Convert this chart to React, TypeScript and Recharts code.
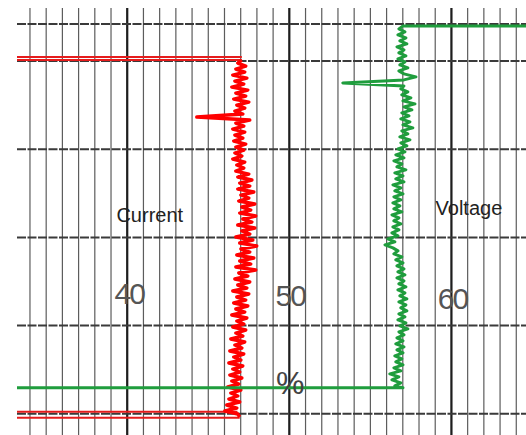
import React from 'react';
import { ComposedChart, XAxis, YAxis, Scatter, ReferenceLine, ReferenceDot } from 'recharts';

// recorder paper: percent across, minutes down
const PCT_DOMAIN = [33.2, 64.6];
const TIME_DOMAIN = [-6.0, 42.4];
const minorPct = [34, 35, 36, 37, 38, 39, 40, 41, 42, 43, 44, 45, 46, 47, 48, 49, 50, 51, 52, 53, 54, 55, 56, 57, 58, 59, 60, 61, 62, 63, 64];
const majorPct = [40, 50, 60];
const timeLines = [-4.2, 0, 10, 20, 30, 40];

const SAMPLE_MIN = 0.34;

const CURRENT_START = -0.1;
const currentPct = [
    47.07, 46.82, 47.31, 46.70, 47.25, 46.51, 47.38, 46.64, 47.19, 46.45,
    47.44, 46.70, 47.31, 46.57, 47.50, 46.76, 47.25, 46.64, 47.13, 44.29,
    47.56, 46.70, 47.19, 46.51, 47.25, 46.64, 47.13, 46.57, 47.31, 46.70,
    47.19, 46.64, 47.07, 46.51, 47.25, 46.76, 47.19, 46.70, 47.50, 46.82,
    47.69, 46.94, 47.56, 46.82, 47.81, 47.01, 47.50, 46.88, 47.87, 47.07,
    47.62, 46.94, 47.93, 47.13, 47.69, 46.82, 47.87, 47.07, 47.56, 46.70,
    47.75, 46.94, 47.99, 47.01, 47.56, 46.76, 47.81, 46.94, 47.62, 46.70,
    47.93, 46.88, 47.44, 46.64, 47.56, 46.82, 47.38, 46.51, 47.50, 46.76,
    47.31, 46.57, 47.44, 46.70, 47.25, 46.45, 47.38, 46.76, 47.19, 46.51,
    47.31, 46.70, 47.13, 46.39, 47.25, 46.64, 47.07, 46.33, 47.19, 46.57,
    47.01, 46.27, 47.13, 46.51, 46.94, 46.33, 47.07, 46.45, 46.88, 46.20,
    47.01, 46.39, 46.82, 46.27, 46.94, 46.14, 46.76, 46.02, 46.82, 46.94,
];
const currentPenLines = [
    [{ pct: 33.2, t: -0.45 }, { pct: 47.07, t: -0.45 }],
    [{ pct: 33.2, t: -0.1 }, { pct: 47.07, t: -0.1 }],
    [{ pct: 33.2, t: 39.77 }, { pct: 46.8, t: 39.77 }],
    [{ pct: 46.94, t: 40.45 }, { pct: 33.2, t: 40.45 }],
];

// voltage pen
const VOLTAGE_START = -3.97;
const voltagePct = [
    57.01, 56.76, 57.13, 56.70, 57.19, 56.82, 57.25, 56.64, 57.07, 56.76,
    57.19, 56.70, 57.13, 56.82, 57.31, 56.76, 57.07, 57.81, 57.07, 53.30,
    57.07, 56.88, 57.31, 56.94, 57.50, 57.01, 57.75, 57.07, 57.56, 56.94,
    57.38, 56.88, 57.44, 57.01, 57.62, 56.94, 57.31, 56.82, 57.44, 56.88,
    57.25, 56.70, 57.13, 56.57, 57.07, 56.45, 56.94, 56.64, 57.19, 56.51,
    57.01, 56.57, 57.07, 56.39, 56.88, 56.51, 57.01, 56.45, 56.88, 56.39,
    56.82, 56.45, 56.94, 56.33, 56.76, 56.45, 56.88, 56.39, 56.76, 56.33,
    56.70, 56.08, 56.51, 55.90, 56.39, 56.70, 56.45, 56.94, 56.57, 57.01,
    56.64, 57.07, 56.70, 57.13, 56.64, 57.07, 56.76, 57.19, 56.70, 57.13,
    56.82, 57.25, 56.76, 57.19, 56.88, 57.25, 56.76, 57.13, 56.70, 57.19,
    56.82, 57.31, 56.76, 57.07, 56.64, 57.01, 56.57, 57.07, 56.64, 57.01,
    56.51, 56.94, 56.57, 57.01, 56.45, 56.88, 56.20, 56.76, 56.33, 56.88,
    56.51,
];
const voltageLeadIn = [{ pct: 64.6, t: -3.97 }, { pct: 57.01, t: -3.97 }];
const voltageLeadOut = [{ pct: 57.01, t: 37.05 }, { pct: 33.2, t: 37.05 }];

const paperLabels = [
    { text: 'Current', pct: 41.39, t: 17.45, kind: 'name' },
    { text: 'Voltage', pct: 61.08, t: 16.66, kind: 'name' },
    { text: '40', pct: 40.12, t: 26.4, kind: 'scale' },
    { text: '50', pct: 50.06, t: 26.63, kind: 'scale' },
    { text: '60', pct: 60.06, t: 26.97, kind: 'scale' },
    { text: '%', pct: 50.06, t: 36.49, kind: 'unit' },
];

const toPoints = (values: number[], start: number) =>
    values.map((pct, i) => ({ pct, t: start + i * SAMPLE_MIN }));

const currentData = toPoints(currentPct, CURRENT_START);
const voltageData = [...voltageLeadIn, ...toPoints(voltagePct, VOLTAGE_START), ...voltageLeadOut];

const labelStyle: Record<string, any> = {
    name: { fontSize: 20, fill: '#222', letterSpacing: 0 },
    scale: { fontSize: 30, fill: '#555', letterSpacing: -2 },
    unit: { fontSize: 32, fill: '#444', letterSpacing: 0 },
};

const NoDot = () => <g />;

const PaperText = ({ viewBox, text, kind }: any) => {
    const s = labelStyle[kind];
    return (
        <text
            x={viewBox.x + viewBox.width / 2}
            y={viewBox.y + viewBox.height / 2}
            textAnchor="middle"
            dominantBaseline="central"
            fontFamily="'Liberation Sans', Arial, sans-serif"
            fontSize={s.fontSize}
            fill={s.fill}
            letterSpacing={s.letterSpacing}
        >
            {text}
        </text>
    );
};

export default function App() {
    return (
        <div style={{ position: 'fixed', left: 0, top: 0, width: 526, height: 435, background: '#fff' }}>
            <ComposedChart width={526} height={435} margin={{ top: 8, right: 0, left: 17, bottom: 0 }}>
                <XAxis type="number" dataKey="pct" domain={PCT_DOMAIN} hide allowDataOverflow />
                <YAxis type="number" dataKey="t" domain={TIME_DOMAIN} reversed hide allowDataOverflow />

                {minorPct.map((v) => (
                    <ReferenceLine key={`m${v}`} x={v} stroke="#5c5c5c" strokeWidth={1.2} />
                ))}
                {majorPct.map((v) => (
                    <ReferenceLine key={`M${v}`} x={v} stroke="#1e1e1e" strokeWidth={2.2} />
                ))}
                {timeLines.map((v) => (
                    <ReferenceLine key={`t${v}`} y={v} stroke="#3a3a3a" strokeWidth={2} strokeDasharray="9 1.5" />
                ))}

                {currentPenLines.map((seg, i) => (
                    <Scatter
                        key={`c${i}`}
                        data={seg}
                        line={{ stroke: '#e51c1c', strokeWidth: 2 }}
                        shape={NoDot}
                        isAnimationActive={false}
                    />
                ))}
                <Scatter
                    data={currentData}
                    line={{ stroke: '#ff0000', strokeWidth: 3.4, strokeLinejoin: 'round' }}
                    shape={NoDot}
                    isAnimationActive={false}
                />
                <Scatter
                    data={voltageData}
                    line={{ stroke: '#1f9d3d', strokeWidth: 3, strokeLinejoin: 'round' }}
                    shape={NoDot}
                    isAnimationActive={false}
                />

                {paperLabels.map((l) => (
                    <ReferenceDot
                        key={l.text}
                        x={l.pct}
                        y={l.t}
                        r={1}
                        fill="none"
                        stroke="none"
                        label={(p: any) => <PaperText {...p} text={l.text} kind={l.kind} />}
                    />
                ))}
            </ComposedChart>
        </div>
    );
}
